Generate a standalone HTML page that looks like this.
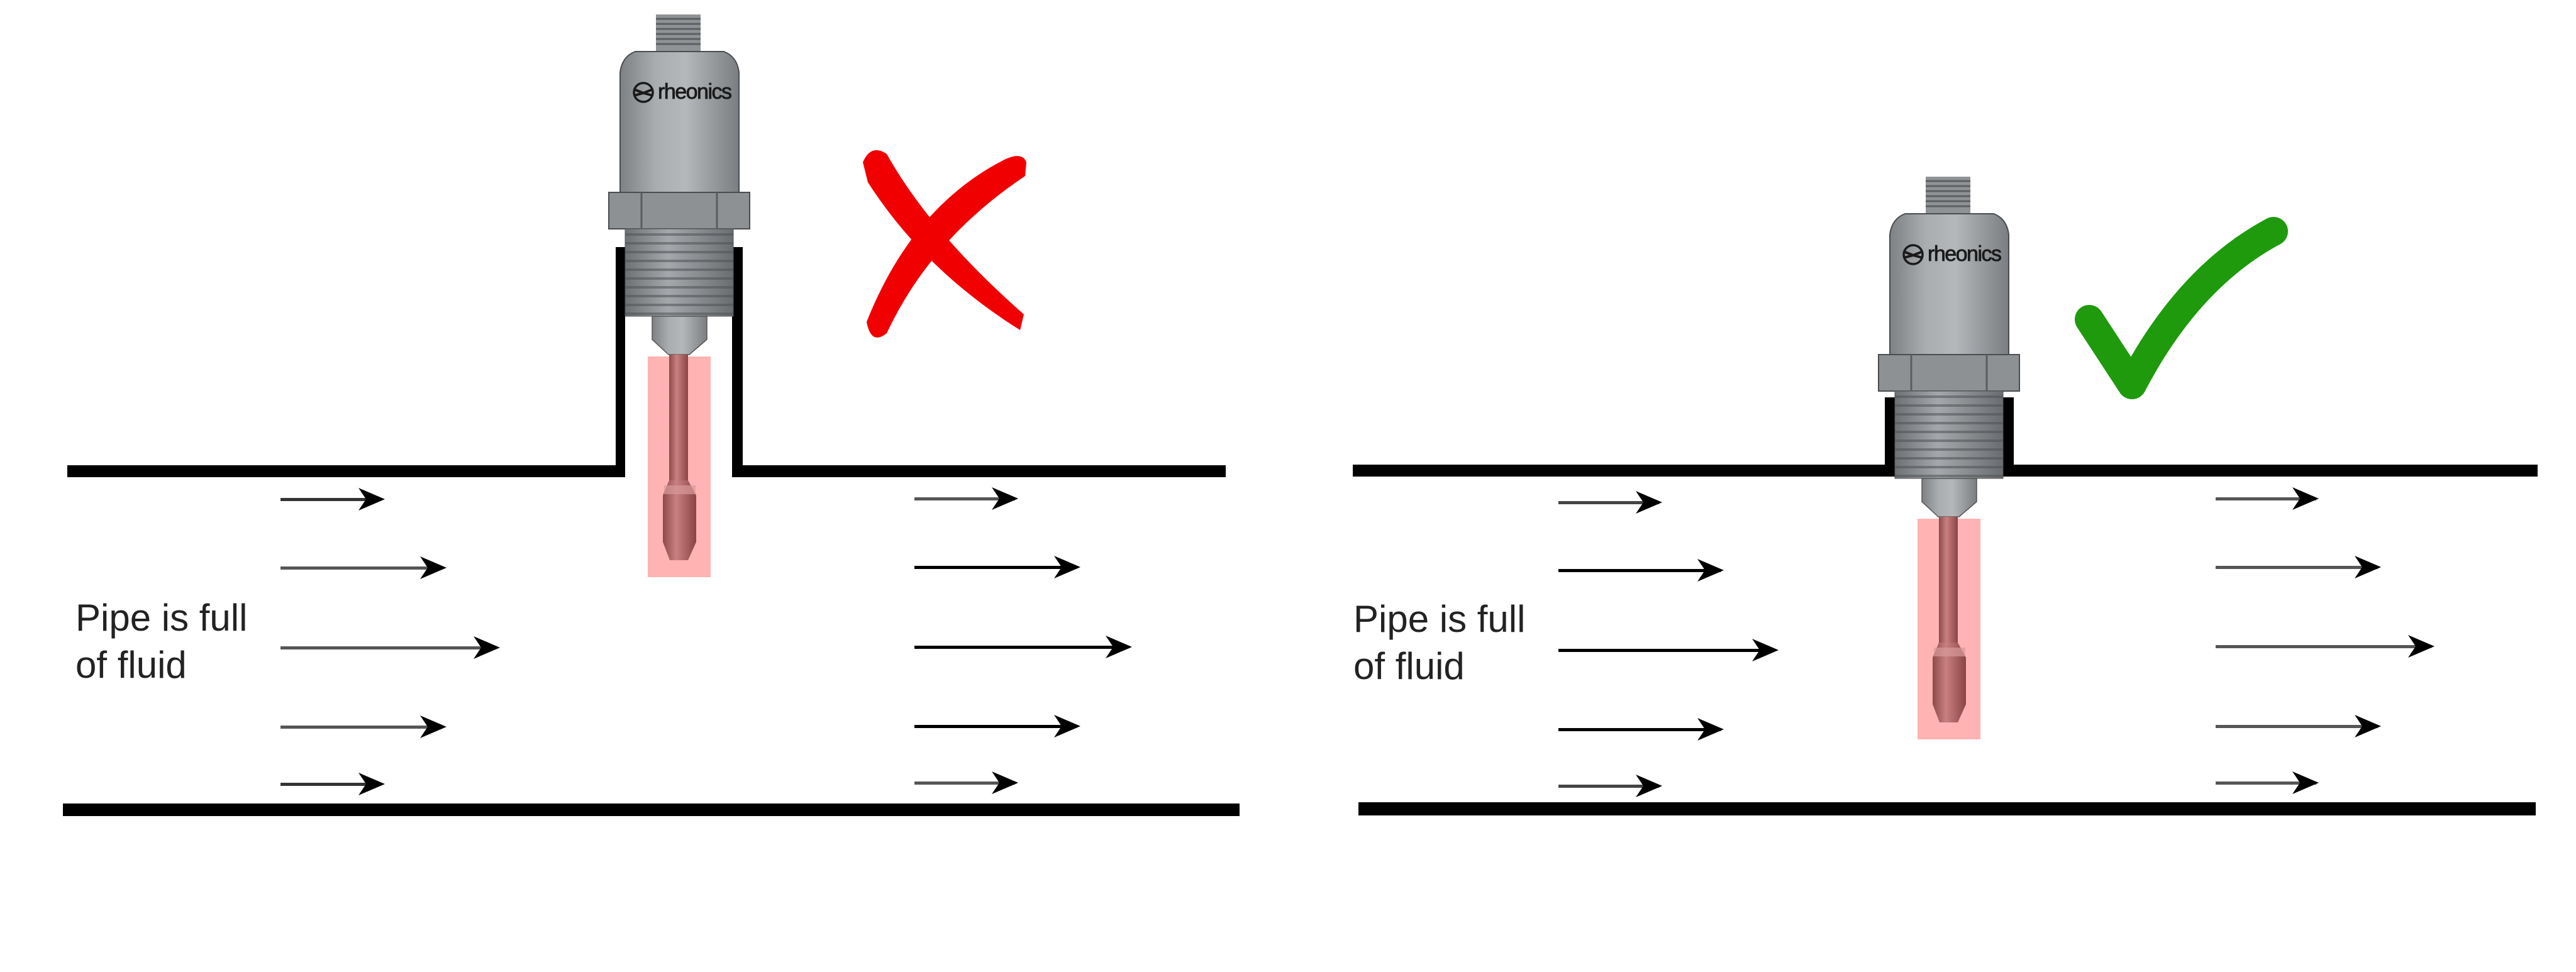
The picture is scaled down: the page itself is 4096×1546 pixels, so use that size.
<!DOCTYPE html>
<html><head><meta charset="utf-8"><style>
html,body{margin:0;padding:0;background:#fff;}
svg{display:block;}
</style></head><body>
<svg width="4096" height="1546" viewBox="0 0 4096 1546" xmlns="http://www.w3.org/2000/svg">
<defs>
<linearGradient id="bodyG" x1="0" x2="1" y1="0" y2="0">
<stop offset="0" stop-color="#7d8184"/><stop offset="0.3" stop-color="#a9adb0"/><stop offset="0.55" stop-color="#b4b8bb"/><stop offset="1" stop-color="#7a7e81"/>
</linearGradient>
<linearGradient id="thrG" x1="0" x2="1" y1="0" y2="0">
<stop offset="0" stop-color="#6e7174"/><stop offset="0.4" stop-color="#a4a8ab"/><stop offset="1" stop-color="#6a6d70"/>
</linearGradient>
<linearGradient id="rodG" x1="0" x2="1" y1="0" y2="0">
<stop offset="0" stop-color="#8e4a4a"/><stop offset="0.4" stop-color="#c98080"/><stop offset="1" stop-color="#8a4444"/>
</linearGradient>
<pattern id="thr" width="200" height="14" patternUnits="userSpaceOnUse">
<rect y="9" width="200" height="4" fill="#4f5255" opacity="0.55"/>
</pattern>
<g id="sensor">
<rect x="57" y="-59" width="71" height="60" fill="#8f9396"/>
<g stroke="#5c5f62" stroke-width="3">
<line x1="57" y1="-52" x2="128" y2="-52"/><line x1="57" y1="-44" x2="128" y2="-44"/><line x1="57" y1="-36" x2="128" y2="-36"/><line x1="57" y1="-28" x2="128" y2="-28"/><line x1="57" y1="-20" x2="128" y2="-20"/><line x1="57" y1="-12" x2="128" y2="-12"/>
</g>
<path d="M24 0 H165 Q186 8 189 33 V224 H0 V33 Q3 8 24 0 Z" fill="url(#bodyG)" stroke="#4a4d50" stroke-width="2"/>
<circle cx="37" cy="65" r="15" fill="none" stroke="#1a1a1a" stroke-width="3.5"/>
<path d="M22 60 L37 66 L52 60 M22 70 L37 66 L52 70" fill="none" stroke="#1a1a1a" stroke-width="4"/>
<text x="60" y="75" font-family="Liberation Sans, sans-serif" font-size="34" fill="#1a1a1a" stroke="#1a1a1a" stroke-width="0.8" letter-spacing="-1.5">rheonics</text>
<rect x="-18" y="224" width="224" height="58" fill="#8d9194" stroke="#4a4d50" stroke-width="2"/>
<line x1="34" y1="224" x2="34" y2="282" stroke="#5a5d60" stroke-width="3"/>
<line x1="154" y1="224" x2="154" y2="282" stroke="#5a5d60" stroke-width="3"/>
<rect x="8" y="282" width="172" height="139" fill="url(#thrG)"/>
<rect x="8" y="282" width="172" height="139" fill="url(#thr)" stroke="#555" stroke-width="1"/>
<path d="M51 421 H138 V458 L110 482 H77 L51 458 Z" fill="url(#bodyG)" stroke="#555" stroke-width="1.5"/>
<rect x="44" y="485" width="100" height="351" fill="#ffb3b3"/>
<rect x="78" y="482" width="30" height="200" fill="url(#rodG)"/>
<path d="M78 682 L68 706 V780 L79 809 H108 L121 780 V706 L108 682 Z" fill="url(#rodG)"/>
<rect x="70" y="690" width="50" height="14" fill="#d99a9a" opacity="0.7"/>
</g>
</defs>

<rect x="107" y="740" width="887" height="19" fill="#000"/>
<rect x="1164" y="740" width="785" height="19" fill="#000"/>
<rect x="979" y="393" width="15" height="366" fill="#000"/>
<rect x="1164" y="393" width="17" height="366" fill="#000"/>
<rect x="100" y="1278" width="1871" height="20" fill="#000"/>
<use href="#sensor" x="986" y="82"/>

<rect x="2151" y="739" width="866" height="19" fill="#000"/>
<rect x="3183" y="739" width="852" height="19" fill="#000"/>
<rect x="2997" y="632" width="20" height="126" fill="#000"/>
<rect x="3183" y="632" width="19" height="126" fill="#000"/>
<rect x="2160" y="1276" width="1872" height="21" fill="#000"/>
<use href="#sensor" x="3005" y="340"/>

<g fill="#f00000">
<path d="M1372 258 Q1385 228 1410 245 Q1480 370 1628 500 L1622 525 Q1470 430 1380 290 Z"/>
<path d="M1632 258 Q1625 240 1595 255 Q1450 330 1378 512 Q1385 550 1410 530 Q1480 380 1630 280 Z"/>
</g>
<path d="M3322 508 L3390 612 Q3480 440 3615 368" stroke="#1e9a0c" stroke-width="46" stroke-linecap="round" stroke-linejoin="round" fill="none"/>

<g fill="#000" stroke="none">
<rect x="446" y="792" width="160" height="5" fill="#333"/><path d="M612 794 L570 776 L582 794 L570 812 Z"/>
<rect x="446" y="901" width="258" height="5" fill="#555"/><path d="M710 903 L668 885 L680 903 L668 921 Z"/>
<rect x="446" y="1028" width="343" height="5" fill="#555"/><path d="M795 1030 L753 1012 L765 1030 L753 1048 Z"/>
<rect x="446" y="1154" width="258" height="5" fill="#555"/><path d="M710 1156 L668 1138 L680 1156 L668 1174 Z"/>
<rect x="446" y="1245" width="160" height="5" fill="#333"/><path d="M612 1247 L570 1229 L582 1247 L570 1265 Z"/>
<rect x="1454" y="791" width="160" height="5" fill="#555"/><path d="M1619 793 L1577 775 L1589 793 L1577 811 Z"/>
<rect x="1454" y="900" width="258" height="5"/><path d="M1718 902 L1676 884 L1688 902 L1676 920 Z"/>
<rect x="1454" y="1027" width="340" height="5"/><path d="M1800 1029 L1758 1011 L1770 1029 L1758 1047 Z"/>
<rect x="1454" y="1153" width="258" height="5"/><path d="M1718 1155 L1676 1137 L1688 1155 L1676 1173 Z"/>
<rect x="1454" y="1243" width="160" height="5" fill="#555"/><path d="M1619 1245 L1577 1227 L1589 1245 L1577 1263 Z"/>
<rect x="2478" y="797" width="160" height="5" fill="#444"/><path d="M2643 799 L2601 781 L2613 799 L2601 817 Z"/>
<rect x="2478" y="905" width="258" height="5"/><path d="M2741 907 L2699 889 L2711 907 L2699 925 Z"/>
<rect x="2478" y="1032" width="343" height="5"/><path d="M2828 1034 L2786 1016 L2798 1034 L2786 1052 Z"/>
<rect x="2478" y="1158" width="258" height="5"/><path d="M2741 1160 L2699 1142 L2711 1160 L2699 1178 Z"/>
<rect x="2478" y="1248" width="160" height="5" fill="#444"/><path d="M2643 1250 L2601 1232 L2613 1250 L2601 1268 Z"/>
<rect x="3523" y="791" width="160" height="5" fill="#555"/><path d="M3687 793 L3645 775 L3657 793 L3645 811 Z"/>
<rect x="3523" y="900" width="258" height="5" fill="#555"/><path d="M3786 902 L3744 884 L3756 902 L3744 920 Z"/>
<rect x="3523" y="1026" width="343" height="5" fill="#555"/><path d="M3871 1028 L3829 1010 L3841 1028 L3829 1046 Z"/>
<rect x="3523" y="1153" width="258" height="5" fill="#555"/><path d="M3786 1155 L3744 1137 L3756 1155 L3744 1173 Z"/>
<rect x="3523" y="1243" width="160" height="5" fill="#555"/><path d="M3687 1245 L3645 1227 L3657 1245 L3645 1263 Z"/>
</g>

<g font-family="Liberation Sans, sans-serif" font-size="60" fill="#222">
<text x="120" y="1003">Pipe is full</text>
<text x="120" y="1078">of fluid</text>
<text x="2152" y="1005">Pipe is full</text>
<text x="2152" y="1080">of fluid</text>
</g>
</svg>
</body></html>
